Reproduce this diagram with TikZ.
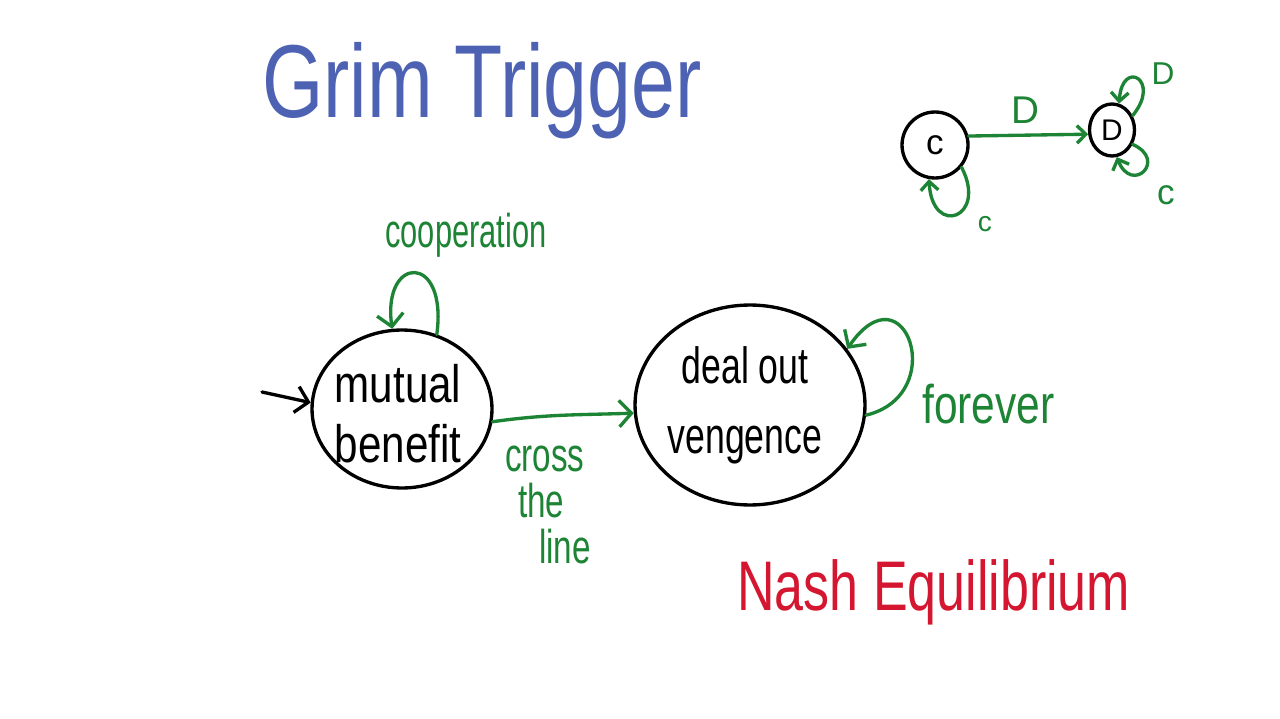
\documentclass[tikz,border=0pt]{standalone}
\usepackage{fontspec}
\setmainfont{Liberation Sans}
\usetikzlibrary{arrows.meta,shapes.geometric}
\definecolor{penblue}{RGB}{78,98,180}
\definecolor{pengreen}{RGB}{28,132,52}
\definecolor{penred}{RGB}{212,22,48}
\begin{document}
\begin{tikzpicture}[x=0.02cm,y=0.02cm,
  pen/.style={line width=1.9pt, line cap=round, line join=round},
  gpen/.style={pen, draw=pengreen},
  bigtip/.style={-{Straight Barb[length=7pt,width=15pt]}},
  smalltip/.style={-{Straight Barb[length=5pt,width=10pt]}},
  blob/.style={ellipse, draw=black, pen, inner sep=0pt},
  lbl/.style={inner sep=0pt},
  gtext/.style={lbl, text=pengreen}]
\fill[white] (0,0) rectangle (1280,-719);
\useasboundingbox (0,0) rectangle (1280,-719);

% title
\node[lbl, text=penblue, anchor=base west, xscale=0.76,
      font=\fontsize{59}{60}\selectfont] (title) at (262,-118) {Grim Trigger};

% main states
\node[blob, minimum width=3.6cm, minimum height=3.16cm] (mb) at (402,-409) {};
\node[lbl, align=center, xscale=0.8, font=\fontsize{30}{34}\selectfont] (mbt) at (398,-414) {mutual\\benefit};
\node[blob, minimum width=4.6cm, minimum height=4cm] (dv) at (750,-405) {};
\node[lbl, align=center, xscale=0.7, font=\fontsize{29}{40}\selectfont] (dvt) at (745,-405) {deal out\\vengence};

% entry arrow
\coordinate (start) at (262,-392);
\draw[pen, bigtip] (start) -- (mb.176);

% loops and transition
\draw[gpen, bigtip] (mb.65) .. controls (448,-252) and (382,-255) .. (mb.97);
\draw[gpen, bigtip] (mb.-8) to[out=8, in=182] (dv.184);
\draw[gpen, bigtip] (dv.-5) .. controls (950,-395) and (905,-265) .. (dv.30);

% labels
\node[gtext, anchor=base, xscale=0.65, font=\fontsize{27}{28}\selectfont] (coop) at (466,-248) {cooperation};
\node[gtext, anchor=west, align=left, xscale=0.7, font=\fontsize{27}{26}\selectfont] (cross) at (505,-505) {cross\\\hspace{0.37cm}the\\\hspace{0.97cm}line};
\node[gtext, anchor=base west, xscale=0.78, font=\fontsize{31}{32}\selectfont] (forever) at (922,-423) {forever};

\node[lbl, text=penred, anchor=base west, xscale=0.74, font=\fontsize{40}{42}\selectfont] (nash) at (737,-610) {Nash Equilibrium};

% small diagram
\node[circle, draw=black, pen, minimum size=1.32cm, inner sep=0pt, font=\fontsize{20}{20}\selectfont] (c) at (935,-145) {c};
\node[ellipse, draw=black, pen, minimum width=0.9cm, minimum height=1.04cm, inner sep=0pt, font=\fontsize{17}{17}\selectfont] (d) at (1112,-130) {D};
\draw[gpen, smalltip] (c.15) -- (d.190);
\node[gtext, font=\fontsize{22}{22}\selectfont] (dlab) at (1025,-110) {D};
\draw[gpen, smalltip] (c.-40) .. controls (988,-218) and (932,-238) .. (c.-100);
\node[gtext, font=\fontsize{16}{16}\selectfont] (clab) at (985,-224) {c};
\draw[gpen, smalltip] (d.35) .. controls (1162,-80) and (1122,-58) .. (d.75);
\node[gtext, font=\fontsize{18}{18}\selectfont] (dlab2) at (1163,-74) {D};
\draw[gpen, smalltip] (d.-35) .. controls (1168,-160) and (1132,-195) .. (d.-80);
\node[gtext, font=\fontsize{20}{20}\selectfont] (clab2) at (1166,-195) {c};
\end{tikzpicture}
\end{document}
